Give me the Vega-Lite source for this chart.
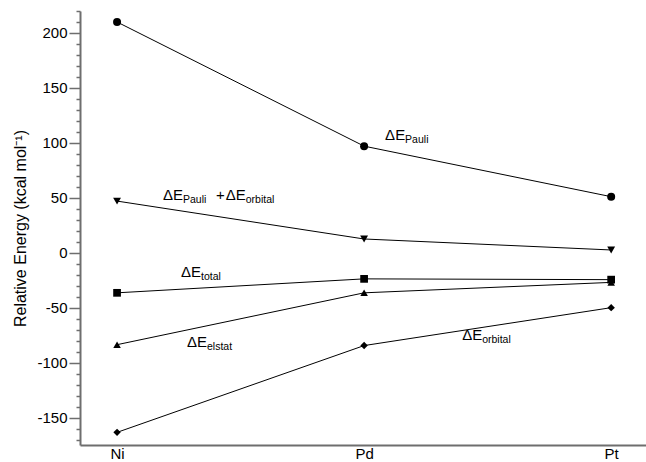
{
  "$schema": "https://vega.github.io/schema/vega-lite/v6.json",
  "autosize": "none",
  "padding": {"left": 80, "top": 11, "right": 0, "bottom": 17},
  "width": 566,
  "height": 434,
  "config": {"view": {"stroke": null}, "font": "Liberation Sans"},
  "datasets": {
    "energy": [
      {"el": "Ni", "i": 0, "series": "Pauli", "v": 210},
      {"el": "Pd", "i": 1, "series": "Pauli", "v": 97},
      {"el": "Pt", "i": 2, "series": "Pauli", "v": 51},
      {"el": "Ni", "i": 0, "series": "PauliOrbital", "v": 47},
      {"el": "Pd", "i": 1, "series": "PauliOrbital", "v": 12.5},
      {"el": "Pt", "i": 2, "series": "PauliOrbital", "v": 2.5},
      {"el": "Ni", "i": 0, "series": "total", "v": -36.5},
      {"el": "Pd", "i": 1, "series": "total", "v": -23.8},
      {"el": "Pt", "i": 2, "series": "total", "v": -24.5},
      {"el": "Ni", "i": 0, "series": "elstat", "v": -83.7},
      {"el": "Pd", "i": 1, "series": "elstat", "v": -36.5},
      {"el": "Pt", "i": 2, "series": "elstat", "v": -27},
      {"el": "Ni", "i": 0, "series": "orbital", "v": -163.5},
      {"el": "Pd", "i": 1, "series": "orbital", "v": -84.5},
      {"el": "Pt", "i": 2, "series": "orbital", "v": -50}
    ],
    "labels": [
      {"i": 1.085, "v": 107, "main": "ΔE", "sub": "Pauli"},
      {"i": 0.186, "v": 52.5, "main": "ΔE", "sub": "Pauli"},
      {"i": 0.4, "v": 52.5, "main": "+", "sub": ""},
      {"i": 0.44, "v": 52.5, "main": "ΔE", "sub": "orbital"},
      {"i": 0.259, "v": -18, "main": "ΔE", "sub": "total"},
      {"i": 0.283, "v": -81.5, "main": "ΔE", "sub": "elstat"},
      {"i": 1.397, "v": -74.5, "main": "ΔE", "sub": "orbital"}
    ]
  },
  "encoding": {
    "x": {
      "field": "i", "type": "quantitative",
      "scale": {"domain": [-0.15, 2.141], "nice": false, "zero": false},
      "axis": {
        "values": [0, 1, 2],
        "labelExpr": "['Ni','Pd','Pt'][datum.value]",
        "ticks": false, "grid": false, "title": null, "domain": true,
        "domainColor": "#6e6e6e", "domainWidth": 2,
        "labelFontSize": 15, "labelColor": "black", "labelPadding": 1,
        "labelFont": "Liberation Sans"
      }
    },
    "y": {
      "field": "v", "type": "quantitative",
      "scale": {"domain": [-175, 220], "nice": false, "zero": false},
      "axis": {
        "values": [-170, -160, -150, -140, -130, -120, -110, -100, -90, -80, -70, -60, -50, -40, -30, -20, -10, 0, 10, 20, 30, 40, 50, 60, 70, 80, 90, 100, 110, 120, 130, 140, 150, 160, 170, 180, 190, 200, 210, 220],
        "labelExpr": "datum.value % 50 == 0 ? replace(format(datum.value, 'd'), '−', '-') : ''",
        "labelOverlap": false,
        "domain": true, "ticks": true,
        "tickSize": {"condition": {"test": "datum.value % 50 == 0", "value": 11}, "value": 4},
        "tickColor": "#6e6e6e", "tickWidth": 1.5, "domainColor": "#6e6e6e", "domainWidth": 2,
        "grid": false,
        "labelFontSize": 15, "labelColor": "black", "labelPadding": 2,
        "labelFont": "Liberation Sans",
        "title": "Relative Energy (kcal mol⁻¹)",
        "titleFontSize": 16, "titleFontWeight": "normal", "titleColor": "black",
        "titleFont": "Liberation Sans", "titlePadding": 8
      }
    }
  },
  "layer": [
    {
      "data": {"name": "energy"},
      "mark": {"type": "line", "color": "black", "strokeWidth": 1},
      "encoding": {"detail": {"field": "series"}}
    },
    {
      "data": {"name": "energy"},
      "mark": {"type": "point", "filled": true, "color": "black", "opacity": 1},
      "encoding": {
        "shape": {
          "field": "series", "type": "nominal", "legend": null,
          "scale": {"domain": ["Pauli", "PauliOrbital", "total", "elstat", "orbital"],
                    "range": ["circle", "triangle-down", "square", "triangle-up", "diamond"]}
        },
        "size": {
          "field": "series", "type": "nominal", "legend": null,
          "scale": {"domain": ["Pauli", "PauliOrbital", "total", "elstat", "orbital"],
                    "range": [64, 55, 50, 55, 40]}
        }
      }
    },
    {
      "data": {"name": "labels"},
      "mark": {"type": "text", "align": "left", "baseline": "middle", "fontSize": 15, "font": "Liberation Sans", "color": "black"},
      "encoding": {"text": {"field": "main"}}
    },
    {
      "data": {"name": "labels"},
      "mark": {"type": "text", "align": "left", "baseline": "middle", "fontSize": 10.5, "font": "Liberation Sans", "color": "black", "dx": 20, "dy": 5},
      "encoding": {"text": {"field": "sub"}}
    }
  ]
}
